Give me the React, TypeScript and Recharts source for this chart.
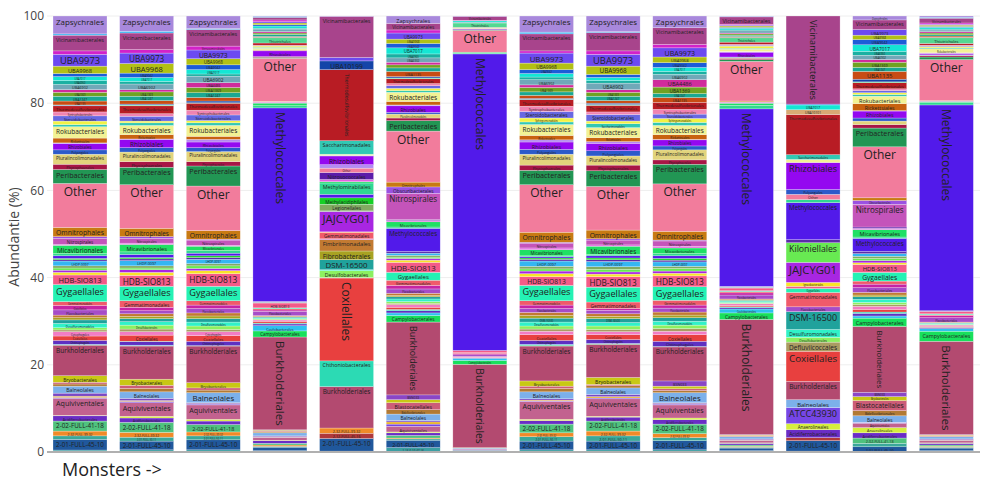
import React from "react";
import { BarChart, Bar, XAxis, YAxis, CartesianGrid, ReferenceLine } from "recharts";

// 14 samples, left to right
const samples = [
  "Monster 1", "Monster 2", "Monster 3", "Monster 4", "Monster 5", "Monster 6", "Monster 7",
  "Monster 8", "Monster 9", "Monster 10", "Monster 11", "Monster 12", "Monster 13", "Monster 14",
];

const yTicks = [0, 20, 40, 60, 80, 100];

// relative abundance (%) per order, one value per sample
//                        1     2     3     4     5     6     7     8     9    10    11    12    13    14
const uncl_1_14 =       [0.45, 0.5,  0.5,  0.3,  0.2,  1.0,  0.1,  0.5,  0.5,  0.5,  0.3,  0.2,  0,    0.3];
const full_2_01 =       [2.45, 2.0,  2.3,  0.8,  2.9,  1.7,  0.2,  2.0,  2.0,  2.1,  0.6,  2.4,  1.2,  0.6];
const full_2_01b =      [0.8,  0.9,  0.9,  0.2,  0,    0.3,  0,    1.0,  1.2,  0.7,  0.2,  0,    0.8,  0.2];
const full_2_12 =       [0,    0,    0,    0,    1.2,  0,    0,    0,    0,    0,    0,    0.7,  0,    0];
const full_2_32 =       [1.1,  1.1,  0.9,  0.3,  1.2,  0.2,  0,    0.9,  1.1,  0.9,  0.2,  0,    0,    0.2];
const full_2_02 =       [2.3,  2.3,  1.7,  0.4,  0,    0.6,  0.1,  2.0,  2.3,  2.2,  0.3,  0,    1.2,  0.3];
const acidiferro =      [1.2,  1.0,  0.8,  0.6,  0,    0.6,  0.2,  0.8,  0.9,  1.0,  0.4,  1.8,  1.2,  0.4];
const anaerolineales =  [0.1,  0.4,  0.4,  0.1,  0,    0.2,  0,    0.3,  0.2,  0.4,  0.1,  1.4,  1.2,  0.1];
const aquiviventales =  [3.9,  3.1,  3.3,  0.6,  0,    1.3,  0.1,  4.1,  4.0,  3.0,  0.5,  0,    1.0,  0.5];
const atcc43930 =       [0.2,  0.3,  0.2,  0.1,  0,    0.5,  0,    0.1,  0.2,  0.2,  0.1,  3.7,  0.1,  0.1];
const bacillales =      [0.3,  0.2,  0.1,  0.1,  0,    0.5,  0,    0.2,  0.3,  0.1,  0.1,  0,    0,    0.1];
const bacteroidales =   [0.7,  0.5,  0.2,  0.2,  0,    0.3,  0,    0.3,  0.5,  0.2,  0.2,  0,    0.1,  0.2];
const balneolales =     [1.6,  1.5,  2.3,  0.7,  0,    1.5,  0.2,  1.6,  1.5,  2.3,  0.5,  1.8,  1.5,  0.5];
const bdellovibrio =    [0.5,  0.8,  0.6,  0.2,  0,    1.0,  0,    0.8,  0.5,  0.5,  0.1,  0,    1.2,  0.1];
const blastocatell =    [0.4,  0.7,  0.5,  0.2,  0,    1.6,  0,    0.5,  0.3,  0.4,  0.2,  0,    2.3,  0.2];
const bryobacterales =  [1.5,  1.4,  1.2,  0.2,  0,    0.7,  0.1,  1.2,  1.6,  0.6,  0.1,  0,    0.9,  0.1];
const bsn033 =          [0,    0,    0,    0.1,  0,    1.1,  0,    0,    0,    1.2,  0.1,  0,    1.0,  0.1];
const burkholderiales = [7.0,  7.6,  8.4,  21.3, 9.5,  16.7, 19.1, 8.0,  7.6,  7.8,  26.4, 4.2,  15.1, 21.4];
const campylobacter =   [0.1,  0.1,  0.1,  1.4,  0,    1.5,  0.9,  0.2,  0.1,  0.1,  1.5,  0,    1.9,  2.3];
const caulobacter =     [0.1,  0.1,  0,    1.2,  0,    0.6,  0.5,  0.2,  0.1,  0,    0.9,  0,    0.5,  0.6];
const chitinophagales = [0.9,  0.8,  1.0,  0.4,  0,    0.5,  0.1,  0.9,  0.9,  1.2,  0.3,  0,    0.6,  0.2];
const chthoniobacter =  [0,    0.1,  0,    0.2,  5.9,  0.3,  0,    0,    0,    0,    0.2,  0,    0.3,  0.1];
const coxiellales =     [1.0,  1.4,  1.3,  0.4,  19.0, 0.5,  0.1,  1.3,  1.1,  1.5,  0.3,  6.9,  0.6,  0.2];
const cytophagales =    [1.0,  0.8,  0.9,  0.3,  0.1,  0.6,  0.2,  0.8,  0.7,  0.8,  0.4,  0,    0.7,  0.3];
const defluviicocc =    [0.4,  0.6,  0.5,  0.1,  0,    0.3,  0,    0.5,  0.5,  0.6,  0.1,  2.1,  0.4,  0.1];
const desulfobacter =   [0.5,  0.9,  0.8,  0.2,  1.6,  0.4,  0,    0.7,  0.8,  0.8,  0.2,  1.1,  0.5,  0.1];
const desulfuromonad =  [1.0,  0.8,  0.9,  0.2,  0.2,  0.6,  0,    0.9,  0.8,  0.9,  0.3,  1.8,  0.7,  0.2];
const dsm16500 =        [0.8,  0.7,  0.8,  0.2,  2.3,  0.5,  0,    0.9,  0.9,  0.8,  0.2,  4.1,  0.6,  0.1];
const fibrobacter =     [0.5,  0.5,  0.6,  0.1,  2.0,  0.3,  0,    0.6,  0.5,  0.6,  0.1,  0,    0.4,  0.1];
const fimbriimonad =    [0.6,  0.6,  0.7,  0.2,  2.6,  0.5,  0,    0.7,  0.6,  0.7,  0.2,  0,    0.6,  0.1];
const flavobacter =     [1.2,  0.7,  1.0,  1.0,  0.1,  1.0,  0.4,  0.9,  0.8,  0.9,  0.9,  1.1,  1.1,  1.0];
const gaiellales =      [1.0,  0.8,  0.8,  0.3,  0.1,  0.8,  0.3,  0.8,  0.4,  0.7,  0.5,  0,    0.8,  0.5];
const gemmatimonad =    [0.9,  1.5,  1.0,  0.3,  1.5,  1.2,  0.2,  1.0,  1.5,  1.1,  0.3,  3.3,  0.7,  0.2];
const gygaellales =     [3.9,  3.3,  3.3,  0.2,  0,    1.8,  0,    3.5,  3.4,  3.1,  0.2,  0.9,  2.0,  0.2];
const hdbSio813 =       [2.2,  2.5,  2.9,  1.1,  0,    2.3,  0.5,  2.0,  2.4,  2.5,  0.6,  0.5,  1.8,  0.5];
const ignavibacter =    [0.6,  0.7,  0.7,  0,    0.1,  0.5,  0,    0.7,  0.6,  0.6,  0,    0.9,  0.4,  0];
const jajcyg01 =        [0.5,  0.6,  0.5,  0.1,  4.7,  0.4,  0,    0.6,  0.5,  0.5,  0.1,  4.6,  0.5,  0.1];
const kiloniellales =   [0.5,  0.4,  0.6,  0,    0.1,  0.3,  0,    0.5,  0.6,  0.6,  0,    4.5,  0.5,  0];
const legionellales =   [0.5,  0.5,  0.5,  0.1,  1.5,  0.4,  0,    0.6,  0.6,  0.5,  0.1,  0,    0.5,  0.1];
const lhdp0097 =        [1.1,  1.2,  1.0,  0.1,  0,    0.5,  0,    1.2,  1.2,  1.0,  0.1,  0,    0.6,  0];
const limnocylind =     [0.3,  0.4,  0.4,  0.1,  0,    0.4,  0,    0.4,  0.4,  0.4,  0.1,  0.7,  0.5,  0];
const methylacidiph =   [0.3,  0.3,  0.4,  0,    1.5,  0,    0,    0.3,  0.4,  0.4,  0,    0,    0,    0];
const methylococcales = [0.6,  0.7,  0.6,  44.4, 0.8,  5.3,  68.0, 0.3,  0.5,  0.6,  40.7, 8.5,  3.0,  47.2];
const methylomirab =    [0.5,  0.6,  0.6,  0.5,  2.6,  0.3,  0.2,  0.2,  0.3,  0.5,  0.8,  0.7,  0.3,  0.6];
const micavibrion =     [1.9,  1.7,  1.0,  0.6,  0.3,  1.2,  0.2,  1.4,  1.9,  1.3,  0.5,  0,    1.7,  0.2];
const myxococcales =    [0.2,  0.3,  0.2,  0.2,  0.5,  0.3,  0,    0.4,  0.3,  0.4,  0.2,  0,    0.3,  0.1];
const nitrosococc =     [0,    0,    0,    0,    1.6,  0.2,  0,    0,    0,    0,    0,    0,    0.3,  0];
const nitrospirales =   [1.4,  1.1,  1.2,  0.1,  0,    6.0,  0,    1.1,  1.1,  1.2,  0.1,  0,    5.2,  0];
const obscuribacter =   [0.4,  0.4,  0.2,  0,    0,    1.5,  0,    0.2,  0.3,  0.2,  0,    0,    0.9,  0];
const omnitrophales =   [2.1,  1.9,  2.0,  0.1,  0,    1.1,  0,    2.3,  2.0,  2.0,  0.2,  0,    0.6,  0.1];
const other =           [10.1, 10.0, 10.2, 9.9,  1.0,  11.7, 5.0,  10.9, 10.0, 10.9, 9.1,  1.2,  11.7, 9.4];
const pedosphaer =      [0,    0,    0,    0,    0.8,  0,    0,    0,    0,    0,    0,    0,    0,    0];
const peribacterales =  [3.2,  4.0,  4.6,  0.2,  0,    2.4,  0.2,  3.3,  3.6,  4.5,  0.4,  0,    4.3,  0.6];
const phycisphaer =     [1.2,  1.3,  1.0,  0.2,  0,    0.6,  0,    1.2,  1.3,  1.0,  0.3,  0,    0.8,  0.3];
const pluralincol =     [2.3,  2.2,  2.3,  0,    0,    0.9,  0,    2.5,  2.1,  2.3,  0.2,  0,    0.8,  0.1];
const polyangiales =    [1.0,  1.0,  0.9,  0,    0,    0.4,  0,    1.1,  1.2,  0.9,  0.1,  1.1,  0.7,  0.1];
const rhizobiales =     [1.4,  1.9,  1.3,  1.3,  2.0,  1.5,  0.2,  1.7,  1.7,  1.4,  1.1,  6.2,  1.6,  0.3];
const rhodospirill =    [0.2,  0.1,  0.6,  0.1,  0.1,  0.2,  0,    0.5,  0.4,  0.1,  0.1,  0,    0.1,  0.1];
const rickettsiales =   [1.1,  1.0,  0.7,  0.1,  0,    0.8,  0,    1.0,  0.9,  1.1,  0.1,  0,    1.6,  0.1];
const rokubacteriales = [2.6,  2.1,  2.5,  0.4,  0.3,  2.1,  0.2,  2.5,  2.3,  2.1,  0.5,  0.7,  1.7,  0.9];
const saccharimonad =   [0.5,  0.6,  0.6,  0.2,  3.1,  0.4,  0,    0.6,  0.9,  0.7,  0.2,  1.1,  0.4,  0.2];
const sphingomonad =    [0.8,  0.4,  0.5,  0.3,  0,    0.5,  0,    0.9,  0.6,  0.9,  0.5,  0,    0.4,  0.3];
const steroidobact =    [1.2,  1.1,  1.3,  0.1,  0,    0.6,  0,    1.5,  1.5,  1.0,  0.2,  0,    0.5,  0.2];
const syntrophobact =   [0.9,  0.6,  1.1,  0.1,  0,    0.5,  0,    1.2,  0.6,  1.1,  0.2,  0,    0.4,  0.1];
const thermodesulfo =   [1.4,  1.8,  1.6,  0.5,  16.3, 1.1,  0.1,  1.5,  1.5,  1.6,  0.5,  9.2,  1.4,  0.4];
const thiotrichales =   [0.1,  0.2,  0.1,  1.2,  0,    0.2,  1.0,  0.1,  0.2,  0,    1.0,  0,    0.2,  1.3];
const uba10101 =        [0,    0,    0,    0,    0,    0,    0,    0,    0,    0,    0,    1.1,  0,    0];
const uba10199 =        [0.1,  0.2,  0.4,  0.1,  2.0,  0.3,  0,    0.2,  0.3,  0,    0.1,  0,    0.6,  0.1];
const uba1135 =         [0.9,  0.8,  0.8,  0.2,  0,    1.2,  0,    0.7,  0.6,  1.1,  0.2,  0,    1.8,  0.3];
const uba1247 =         [1.1,  1.0,  1.1,  0.5,  0,    0.8,  0,    0.8,  1.0,  0.9,  0.3,  0,    0.9,  0.3];
const uba1369 =         [0.9,  1.0,  1.2,  0.3,  0,    0.7,  0,    1.0,  0.9,  1.5,  0.3,  0,    1.2,  0.4];
const uba4486 =         [0.6,  0.5,  1.1,  0.3,  0,    0.6,  0,    0.6,  0.6,  1.7,  0.2,  0,    0.6,  0.3];
const uba6902 =         [1.2,  1.3,  1.5,  0.6,  0,    1.0,  0.2,  1.2,  1.5,  1.2,  0.5,  0,    1.0,  0.4];
const uba6960 =         [0.9,  0.6,  0.5,  0.2,  0,    0.9,  0,    0.6,  0.6,  0.7,  0.2,  0,    0.9,  0.2];
const uba7017 =         [0.9,  0.9,  1.0,  0.5,  0,    1.4,  0.3,  0.8,  0.7,  0.9,  0.4,  1.1,  1.5,  0.4];
const uba9042 =         [0.7,  1.0,  1.1,  0.3,  0,    1.0,  0,    0.9,  0.7,  1.1,  0.2,  0.2,  1.2,  0.2];
const uba9968 =         [1.7,  2.2,  1.4,  0.4,  0,    1.0,  0,    1.5,  1.9,  1.3,  0.3,  0,    1.0,  0.3];
const uba9973 =         [2.7,  2.4,  2.0,  0.3,  0.8,  1.4,  0,    2.3,  2.7,  2.1,  0.2,  0,    1.3,  0.2];
const verrucomicro =    [0.8,  0.8,  0.9,  0.4,  0,    0.7,  0.1,  0.5,  0.8,  0.8,  0.2,  0,    0,    0.3];
const vicinamibact =    [3.6,  3.8,  3.8,  0.6,  9.4,  1.5,  0.9,  3.9,  4.2,  3.8,  1.7,  20.2, 2.2,  1.1];
const xanthomonad =     [0.3,  0.4,  0.2,  0.2,  0,    0,    0,    0.4,  0.2,  0,    0.1,  0,    0,    0.2];
const zapsychrales =    [4.1,  3.5,  2.9,  0.1,  0.1,  1.7,  0.1,  3.7,  3.6,  2.7,  0.1,  0,    0.9,  0.3];

// stacking order, bottom to top, with colours
const taxa = [
  { name: "1-14-0-10-47-16", color: "#3c9fa3", values: uncl_1_14 },
  { name: "2-01-FULL-45-10", color: "#20589c", values: full_2_01 },
  { name: "2-01-FULL-50-11", color: "#3aa89a", values: full_2_01b },
  { name: "2-12-FULL-45-16", color: "#b0383a", values: full_2_12 },
  { name: "2-32-FULL-39-32", color: "#f08a28", values: full_2_32 },
  { name: "2-02-FULL-41-18", color: "#4fc27e", values: full_2_02 },
  { name: "Acidiferrobacterales", color: "#6a2dc6", values: acidiferro },
  { name: "Anaerolineales", color: "#d6ee3e", values: anaerolineales },
  { name: "Aquiviventales", color: "#c2628f", values: aquiviventales },
  { name: "ATCC43930", color: "#7646e6", values: atcc43930 },
  { name: "Bacillales", color: "#e8b020", values: bacillales },
  { name: "Bacteroidales", color: "#7c48c4", values: bacteroidales },
  { name: "Balneolales", color: "#7cb0ea", values: balneolales },
  { name: "Bdellovibrionales", color: "#b27a34", values: bdellovibrio },
  { name: "Blastocatellales", color: "#cc5c78", values: blastocatell },
  { name: "Bryobacterales", color: "#c8c814", values: bryobacterales },
  { name: "BSN033", color: "#8a46c6", values: bsn033 },
  { name: "Burkholderiales", color: "#b34a70", values: burkholderiales },
  { name: "Campylobacterales", color: "#18e05c", values: campylobacter },
  { name: "Caulobacterales", color: "#2ec2ee", values: caulobacter },
  { name: "Chitinophagales", color: "#5e30c2", values: chitinophagales },
  { name: "Chthoniobacterales", color: "#2cdab4", values: chthoniobacter },
  { name: "Coxiellales", color: "#e8403f", values: coxiellales },
  { name: "Cytophagales", color: "#f27cc4", values: cytophagales },
  { name: "Defluviicoccales", color: "#aa9c62", values: defluviicocc },
  { name: "Desulfobacterales", color: "#8cf060", values: desulfobacter },
  { name: "Desulfuromonadales", color: "#30f2c8", values: desulfuromonad },
  { name: "DSM-16500", color: "#20a29c", values: dsm16500 },
  { name: "Fibrobacterales", color: "#a8a222", values: fibrobacter },
  { name: "Fimbriimonadales", color: "#c27a32", values: fimbriimonad },
  { name: "Flavobacteriales", color: "#a64cc8", values: flavobacter },
  { name: "Gaiellales", color: "#c624a4", values: gaiellales },
  { name: "Gemmatimonadales", color: "#f05a6a", values: gemmatimonad },
  { name: "Gygaellales", color: "#24f2b4", values: gygaellales },
  { name: "HDB-SIO813", color: "#f45a88", values: hdbSio813 },
  { name: "Ignavibacteriales", color: "#f8e428", values: ignavibacter },
  { name: "JAJCYG01", color: "#a826e2", values: jajcyg01 },
  { name: "Kiloniellales", color: "#68ea52", values: kiloniellales },
  { name: "Legionellales", color: "#82aa62", values: legionellales },
  { name: "LHDP-0097", color: "#34b6f2", values: lhdp0097 },
  { name: "Limnocylindrales", color: "#5a2ca8", values: limnocylind },
  { name: "Methylacidiphilales", color: "#16d026", values: methylacidiph },
  { name: "Methylococcales", color: "#521aea", values: methylococcales },
  { name: "Methylomirabilales", color: "#30d892", values: methylomirab },
  { name: "Micavibrionales", color: "#20e064", values: micavibrion },
  { name: "Myxococcales", color: "#e262e0", values: myxococcales },
  { name: "Nitrosococcales", color: "#5c1caa", values: nitrosococc },
  { name: "Nitrospirales", color: "#c454ba", values: nitrospirales },
  { name: "Obscuribacterales", color: "#9a52e2", values: obscuribacter },
  { name: "Omnitrophales", color: "#c87a12", values: omnitrophales },
  { name: "Other", color: "#f27c9c", values: other },
  { name: "Pedosphaerales", color: "#b28cf2", values: pedosphaer },
  { name: "Peribacterales", color: "#229654", values: peribacterales },
  { name: "Phycisphaerales", color: "#a81646", values: phycisphaer },
  { name: "Pluralincolimonadales", color: "#e2d47c", values: pluralincol },
  { name: "Polyangiales", color: "#2c5aca", values: polyangiales },
  { name: "Rhizobiales", color: "#9408f0", values: rhizobiales },
  { name: "Rhodospirillales", color: "#b48af0", values: rhodospirill },
  { name: "Rickettsiales", color: "#c86210", values: rickettsiales },
  { name: "Rokubacteriales", color: "#f2f294", values: rokubacteriales },
  { name: "Saccharimonadales", color: "#32c8b4", values: saccharimonad },
  { name: "Sphingomonadales", color: "#f2f244", values: sphingomonad },
  { name: "Steroidobacterales", color: "#6868e2", values: steroidobact },
  { name: "Syntrophobacterales", color: "#f084b2", values: syntrophobact },
  { name: "Thermodesulfovibrionales", color: "#b81c24", values: thermodesulfo },
  { name: "Thiotrichales", color: "#54d892", values: thiotrichales },
  { name: "UBA10101", color: "#d8aa74", values: uba10101 },
  { name: "UBA10199", color: "#1444a8", values: uba10199 },
  { name: "UBA1135", color: "#c84c14", values: uba1135 },
  { name: "UBA1247", color: "#1aa892", values: uba1247 },
  { name: "UBA1369", color: "#70a222", values: uba1369 },
  { name: "UBA4486", color: "#d02c9c", values: uba4486 },
  { name: "UBA6902", color: "#70a8b8", values: uba6902 },
  { name: "UBA6960", color: "#1ab0a2", values: uba6960 },
  { name: "UBA7017", color: "#14e6d4", values: uba7017 },
  { name: "UBA9042", color: "#1c5cd8", values: uba9042 },
  { name: "UBA9968", color: "#b2c014", values: uba9968 },
  { name: "UBA9973", color: "#6c4af0", values: uba9973 },
  { name: "Verrucomicrobiales", color: "#d222c8", values: verrucomicro },
  { name: "Vicinamibacterales", color: "#a8448c", values: vicinamibact },
  { name: "Xanthomonadales", color: "#34b4f2", values: xanthomonad },
  { name: "Zapsychrales", color: "#a888dc", values: zapsychrales },
];

// one row per sample, expressed as percent of the sample total
const rows = samples.map((s, i) => {
  const total = taxa.reduce((acc, t) => acc + t.values[i], 0);
  const row: Record<string, number | string> = { sample: s };
  taxa.forEach((t, k) => {
    row[`t${k}`] = (t.values[i] / total) * 100;
  });
  return row;
});

const FONT = '"Open Sans", "DejaVu Sans", sans-serif';
const MAX_FS = 12;

const measureCtx =
  typeof document !== "undefined" ? document.createElement("canvas").getContext("2d") : null;
const widthCache: Record<string, number> = {};
const textWidth10 = (s: string) => {
  if (widthCache[s] != null) return widthCache[s];
  let w = s.length * 5.6;
  if (measureCtx) {
    measureCtx.font = `10px ${FONT}`;
    w = measureCtx.measureText(s).width;
  }
  widthCache[s] = w;
  return w;
};

// rect + label scaled to fit inside the segment, anchored at its top (like plotly "inside")
const makeShape = (name: string, color: string) => (p: any) => {
  const { x, y, width, height } = p;
  const h = Math.abs(height || 0);
  const top = height < 0 ? y + height : y;
  if (!(h > 0) || !(width > 0)) return <g />;
  const tw = textWidth10(name);
  const aw = width - 6;
  const fsH = Math.min(MAX_FS, (10 * aw) / tw, (h - 1) / 1.15);
  const fsV = Math.min(MAX_FS, (10 * (h - 8)) / tw, aw / 1.15);
  const cx = x + width / 2;
  let label = null;
  if (fsV > fsH && fsV >= 2.2) {
    label = (
      <text
        transform={`translate(${cx - 0.36 * fsV},${top + 4}) rotate(90)`}
        x={0}
        y={0}
        fontSize={fsV}
        fontFamily={FONT}
        fill="#222"
        textAnchor="start"
      >
        {name}
      </text>
    );
  } else if (fsH >= 2.2) {
    label = (
      <text
        x={cx}
        y={top + 1.5 + 0.92 * fsH}
        fontSize={fsH}
        fontFamily={FONT}
        fill="#222"
        textAnchor="middle"
      >
        {name}
      </text>
    );
  }
  return (
    <g>
      <rect
        x={x}
        y={top}
        width={width}
        height={h}
        fill={color}
        stroke="#ffffff"
        strokeOpacity={0.5}
        strokeWidth={0.5}
      />
      {label}
    </g>
  );
};

export default function App() {
  return (
    <div
      style={{
        position: "absolute",
        left: 0,
        top: 0,
        width: 989,
        height: 487,
        background: "#fff",
        fontFamily: FONT,
      }}
    >
      <BarChart
        width={989}
        height={487}
        data={rows}
        margin={{ top: 16, right: 9, bottom: 35, left: 0 }}
        barSize={54}
      >
        <CartesianGrid vertical={false} stroke="#eeeeee" />
        <XAxis dataKey="sample" hide />
        <YAxis
          width={47}
          domain={[0, 100]}
          ticks={yTicks}
          allowDataOverflow
          axisLine={false}
          tickLine={false}
          tickSize={0}
          tickMargin={3}
          tick={{ fill: "#444", fontSize: 12, fontFamily: FONT }}
        />
        {taxa.map((t, k) => (
          <Bar
            key={t.name}
            dataKey={`t${k}`}
            stackId="a"
            fill={t.color}
            isAnimationActive={false}
            shape={makeShape(t.name, t.color)}
          />
        ))}
        <ReferenceLine y={0} stroke="#b0b0b0" strokeWidth={2} />
      </BarChart>
      <div
        style={{
          position: "absolute",
          left: 13,
          top: 237,
          transform: "translate(-50%, -50%) rotate(-90deg)",
          whiteSpace: "nowrap",
          fontSize: 14,
          color: "#444",
        }}
      >
        Abundantie (%)
      </div>
      <div
        style={{
          position: "absolute",
          left: 62,
          top: 460,
          fontSize: 18,
          lineHeight: "18px",
          color: "#222",
          whiteSpace: "nowrap",
        }}
      >
        Monsters -&gt;
      </div>
    </div>
  );
}
